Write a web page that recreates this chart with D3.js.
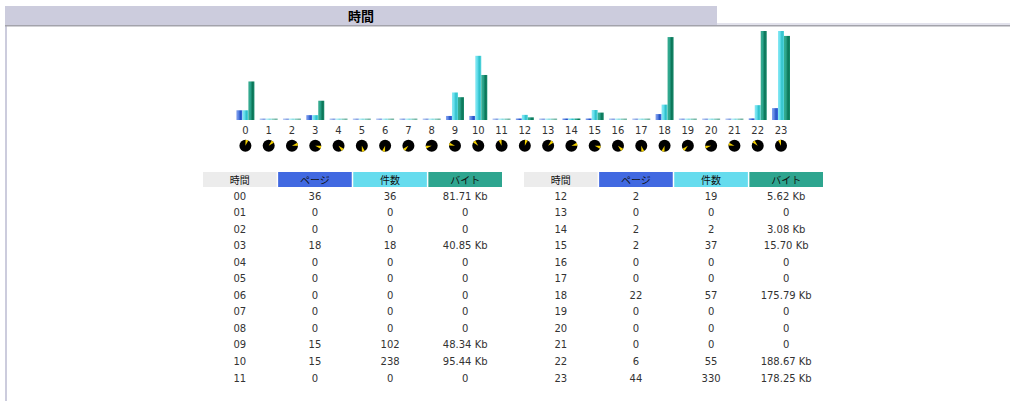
<!DOCTYPE html>
<html>
<head>
<meta charset="utf-8">
<style>
  html, body { margin: 0; padding: 0; background: #fff; overflow: hidden; }
  svg { display: block; }
  text { font-family: "DejaVu Sans", sans-serif; font-size: 10px; fill: #333; }
  .ja { font-family: "Noto Sans CJK JP", sans-serif; fill: #111; }
</style>
<script src="https://cdnjs.cloudflare.com/ajax/libs/d3/7.8.5/d3.min.js"></script>
</head>
<body>
<svg id="chart" width="1010" height="401"></svg>
<script>
// Chart data
const hours = d3.range(24);
const pages = [36, 0, 0, 18, 0, 0, 0, 0, 0, 15, 15, 0, 2, 0, 2, 2, 0, 0, 22, 0, 0, 0, 6, 44];
const hits = [36, 0, 0, 18, 0, 0, 0, 0, 0, 102, 238, 0, 19, 0, 2, 37, 0, 0, 57, 0, 0, 0, 55, 330];
const kbytes = [81.71, 0, 0, 40.85, 0, 0, 0, 0, 0, 48.34, 95.44, 0, 5.62, 0, 3.08, 15.70, 0, 0, 175.79, 0, 0, 0, 188.67, 178.25];
const columns = ['時間', 'ページ', '件数', 'バイト'];
const title = '時間';

const svg = d3.select('#chart');
const width = 1010;
const height = 401;

// Page frame and title band
svg.append('rect').attr('x', 5).attr('y', 25).attr('width', 2).attr('height', height - 25).attr('fill', '#ccccdd');
svg.append('rect').attr('x', 717).attr('y', 23).attr('width', width - 717).attr('height', 2).attr('fill', '#e2e2ec');
svg.append('rect').attr('x', 5).attr('y', 6).attr('width', 712).attr('height', 19).attr('fill', '#ccccdd');
svg.append('rect').attr('x', 5).attr('y', 25).attr('width', width - 5).attr('height', 1.5).attr('fill', '#a3a3ab');
svg.append('text').attr('class', 'ja')
  .attr('x', 361).attr('y', 15.5)
  .attr('text-anchor', 'middle').attr('dominant-baseline', 'central')
  .style('font-size', '13px').style('font-weight', 700).style('fill', '#000')
  .text(title);

// Gradients that give the bars their shaded look
const defs = svg.append('defs');
const shades = [
  { id: 'pageBar', stops: ['#86a3ee', '#5f86e4', '#2553c4', '#4169e1'] },
  { id: 'hitBar', stops: ['#8ae8f2', '#66dfee', '#2cbfc8', '#5ad8e0'] },
  { id: 'byteBar', stops: ['#39ab90', '#2ba58c', '#0b7557', '#178a6c'] }
];
shades.forEach(s => {
  const g = defs.append('linearGradient').attr('id', s.id);
  s.stops.forEach((c, i) => {
    g.append('stop').attr('offset', i / (s.stops.length - 1)).attr('stop-color', c);
  });
});

// Scales
const baseY = 120;
const topY = 31;
const xHour = d3.scalePoint().domain(hours).range([245.4, 781]);
const xSeries = d3.scaleBand().domain(['pages', 'hits', 'bytes']).range([-9, 9]);
const yCount = d3.scaleLinear().domain([0, d3.max(hits)]).range([baseY, topY]);
const yBytes = d3.scaleLinear().domain([0, d3.max(kbytes)]).range([baseY, topY]);

const series = [
  { key: 'pages', values: pages, y: yCount, fill: 'url(#pageBar)' },
  { key: 'hits', values: hits, y: yCount, fill: 'url(#hitBar)' },
  { key: 'bytes', values: kbytes, y: yBytes, fill: 'url(#byteBar)' }
];

// Bars, zero values still get a thin pale stub
series.forEach(s => {
  svg.append('g').selectAll('rect')
    .data(hours)
    .enter().append('rect')
      .attr('x', h => xHour(h) + xSeries(s.key))
      .attr('width', xSeries.bandwidth())
      .attr('y', h => Math.min(s.y(s.values[h]), baseY - 1.5))
      .attr('height', h => Math.max(baseY - s.y(s.values[h]), 1.5))
      .attr('fill', s.fill)
      .attr('opacity', h => s.values[h] === 0 ? 0.55 : 1);
});

// Hour labels under the bars
svg.append('g').selectAll('text')
  .data(hours)
  .enter().append('text')
    .attr('x', h => xHour(h))
    .attr('y', 130)
    .attr('text-anchor', 'middle')
    .attr('dominant-baseline', 'central')
    .text(h => h);

// Little clock icons, one yellow wedge per hour
const clockAngle = d3.scaleLinear().domain([0, 12]).range([0, 2 * Math.PI]);
const clockArc = d3.arc().innerRadius(0).outerRadius(6);
const clocks = svg.append('g').selectAll('g')
  .data(hours)
  .enter().append('g')
    .attr('transform', h => `translate(${xHour(h)},145.7)`);
clocks.append('circle').attr('r', 6).attr('fill', '#000');
clocks.append('path')
  .attr('fill', '#f2cf00')
  .attr('d', h => clockArc({
    startAngle: clockAngle(h % 12) + 0.02,
    endAngle: clockAngle(h % 12) + 0.52
  }));

// The two tables, twelve hours each
const fmtBytes = v => v > 0 ? `${v.toFixed(2)} Kb` : '0';
const headerFills = ['#ececec', '#4169e1', '#66dcee', '#2ea58f'];
const yRow = d3.scalePoint().domain(d3.range(12)).range([196, 378]);

function drawTable(rangeX, tableHours) {
  const xCol = d3.scaleBand().domain(columns).range(rangeX).paddingInner(0.02);
  const table = svg.append('g');

  const head = table.selectAll('g')
    .data(columns)
    .enter().append('g');
  head.append('rect')
    .attr('x', d => xCol(d))
    .attr('y', 172)
    .attr('width', xCol.bandwidth())
    .attr('height', 15)
    .attr('fill', (d, i) => headerFills[i]);
  head.append('text')
    .attr('class', 'ja')
    .attr('x', d => xCol(d) + xCol.bandwidth() / 2)
    .attr('y', 179.5)
    .attr('text-anchor', 'middle')
    .attr('dominant-baseline', 'central')
    .text(d => d);

  const cellText = [
    h => d3.format('02')(h),
    h => pages[h],
    h => hits[h],
    h => fmtBytes(kbytes[h])
  ];
  columns.forEach((c, i) => {
    table.append('g').selectAll('text')
      .data(tableHours)
      .enter().append('text')
        .attr('x', xCol(c) + xCol.bandwidth() / 2)
        .attr('y', (h, r) => yRow(r))
        .attr('text-anchor', 'middle')
        .attr('dominant-baseline', 'central')
        .text(cellText[i]);
  });
}

drawTable([203, 502], hours.slice(0, 12));
drawTable([524, 823], hours.slice(12));
</script>
</body>
</html>
